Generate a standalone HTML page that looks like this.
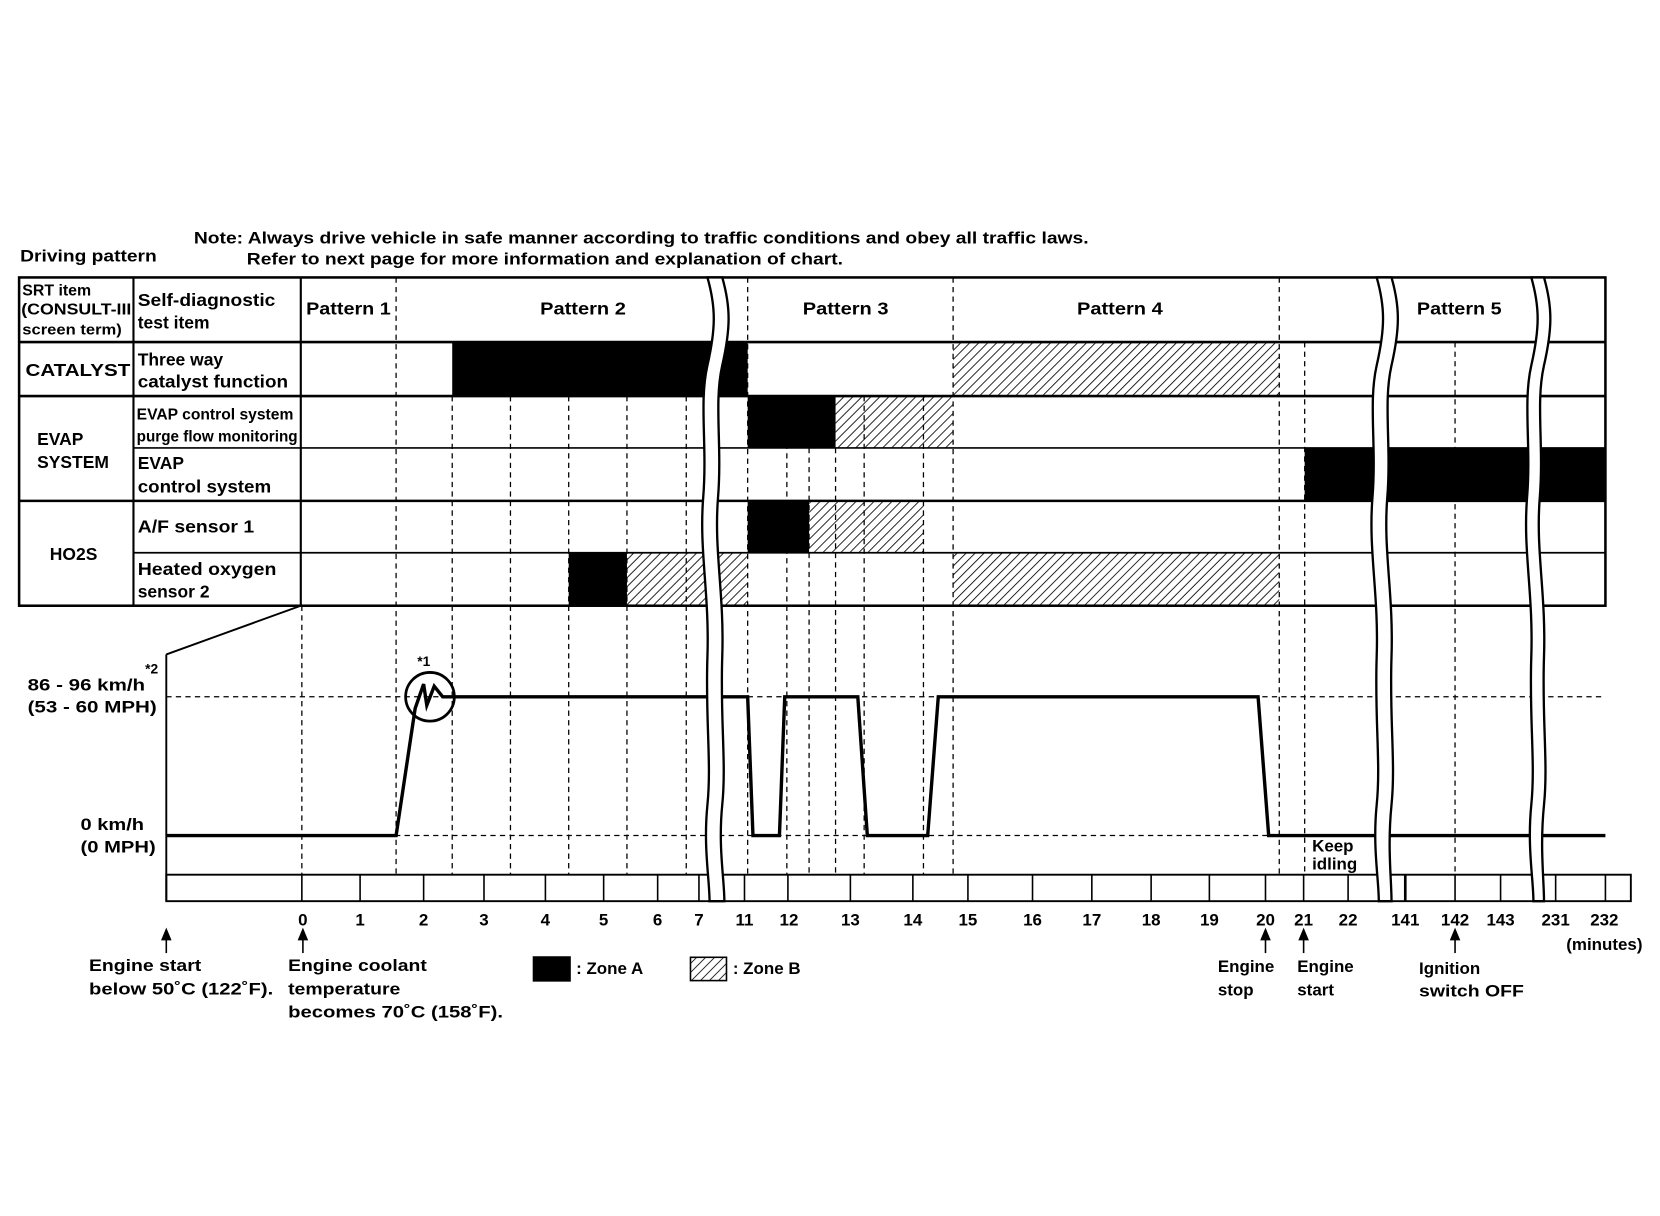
<!DOCTYPE html>
<html><head><meta charset="utf-8"><style>
html,body{margin:0;padding:0;background:#fff}
svg{display:block}
text{font-family:"Liberation Sans",sans-serif;fill:#000;font-weight:bold}
</style></head><body>
<svg width="1660" height="1216" viewBox="0 0 1567.5 1148.3" xmlns="http://www.w3.org/2000/svg">
<defs>
<pattern id="h" width="6" height="6" patternUnits="userSpaceOnUse" patternTransform="rotate(45)">
<line x1="0" y1="0" x2="0" y2="6" stroke="#000" stroke-width="1.6"/>
</pattern>
</defs>
<rect width="1567.5" height="1148.3" fill="#fff"/>
<!-- titles -->
<text x="183" y="230" font-size="15.5" textLength="845" lengthAdjust="spacingAndGlyphs">Note: Always drive vehicle in safe manner according to traffic conditions and obey all traffic laws.</text>
<text x="233" y="250" font-size="15.5" textLength="563" lengthAdjust="spacingAndGlyphs">Refer to next page for more information and explanation of chart.</text>
<text x="19" y="247" font-size="15.5" textLength="129" lengthAdjust="spacingAndGlyphs">Driving pattern</text>

<!-- zones -->
<g>
<rect x="427" y="323" width="279" height="51" fill="#000"/>
<rect x="706" y="374" width="83" height="49" fill="#000"/>
<rect x="789" y="374" width="111" height="49" fill="url(#h)"/>
<rect x="900" y="323" width="308" height="51" fill="url(#h)"/>
<rect x="1232" y="423" width="284" height="50" fill="#000"/>
<rect x="706" y="473" width="58" height="49" fill="#000"/>
<rect x="764" y="473" width="108" height="49" fill="url(#h)"/>
<rect x="537" y="522" width="55" height="50" fill="#000"/>
<rect x="592" y="522" width="114" height="50" fill="url(#h)"/>
<rect x="900" y="522" width="308" height="50" fill="url(#h)"/>
</g>

<!-- dashed verticals -->
<g stroke="#000" stroke-width="1.2" stroke-dasharray="5,4">
<line x1="374" y1="262" x2="374" y2="826"/>
<line x1="427" y1="374" x2="427" y2="826"/>
<line x1="482" y1="374" x2="482" y2="826"/>
<line x1="537" y1="374" x2="537" y2="826"/>
<line x1="592" y1="374" x2="592" y2="826"/>
<line x1="648" y1="374" x2="648" y2="826"/>
<line x1="706" y1="262" x2="706" y2="826"/>
<line x1="743" y1="374" x2="743" y2="826"/>
<line x1="764" y1="423" x2="764" y2="826"/>
<line x1="789" y1="423" x2="789" y2="826"/>
<line x1="816" y1="374" x2="816" y2="826"/>
<line x1="872" y1="374" x2="872" y2="826"/>
<line x1="900" y1="262" x2="900" y2="826"/>
<line x1="1208" y1="262" x2="1208" y2="826"/>
<line x1="1232" y1="323" x2="1232" y2="826"/>
<line x1="1374" y1="323" x2="1374" y2="826"/>
<line x1="285" y1="572" x2="285" y2="826"/>
</g>
<g stroke="#000" stroke-width="1.2" stroke-dasharray="5,4">
<line x1="157" y1="658" x2="1516" y2="658"/>
<line x1="157" y1="789" x2="1516" y2="789"/>
</g>

<!-- table grid -->
<g stroke="#000" fill="none">
<rect x="18" y="262" width="1498" height="310" stroke-width="2.4"/>
<line x1="18" y1="323" x2="1516" y2="323" stroke-width="2.4"/>
<line x1="18" y1="374" x2="1516" y2="374" stroke-width="2.4"/>
<line x1="126" y1="423" x2="1516" y2="423" stroke-width="1.6"/>
<line x1="18" y1="473" x2="1516" y2="473" stroke-width="2.4"/>
<line x1="126" y1="522" x2="1516" y2="522" stroke-width="1.6"/>
<line x1="126" y1="262" x2="126" y2="572" stroke-width="2"/>
<line x1="284" y1="262" x2="284" y2="572" stroke-width="2"/>
</g>
<!-- table texts -->
<g font-size="14">
<text x="21" y="279" font-weight="normal" font-size="15">SRT item</text>
<text x="20" y="297" font-weight="normal" font-size="15" textLength="104" lengthAdjust="spacingAndGlyphs">(CONSULT-III</text>
<text x="21" y="316" font-weight="normal" font-size="14" textLength="94" lengthAdjust="spacingAndGlyphs">screen term)</text>
<text x="130" y="289" font-size="16.5" textLength="130" lengthAdjust="spacingAndGlyphs">Self-diagnostic</text>
<text x="130" y="310" font-size="16.5">test item</text>
<text x="24" y="355" font-size="16.5" textLength="99" lengthAdjust="spacingAndGlyphs">CATALYST</text>
<text x="130" y="345" font-size="16.5">Three way</text>
<text x="130" y="366" font-size="16.5" textLength="142" lengthAdjust="spacingAndGlyphs">catalyst function</text>
<text x="35" y="420" font-size="16.5">EVAP</text>
<text x="35" y="442" font-size="16.5">SYSTEM</text>
<text x="129" y="396" font-size="14.5" font-weight="normal" textLength="148" lengthAdjust="spacingAndGlyphs">EVAP control system</text>
<text x="129" y="417" font-size="14.5" font-weight="normal" textLength="152" lengthAdjust="spacingAndGlyphs">purge flow monitoring</text>
<text x="130" y="443" font-size="16.5">EVAP</text>
<text x="130" y="465" font-size="16.5" textLength="126" lengthAdjust="spacingAndGlyphs">control system</text>
<text x="130" y="503" font-size="16.5" textLength="110" lengthAdjust="spacingAndGlyphs">A/F sensor 1</text>
<text x="47" y="529" font-size="16.5">HO2S</text>
<text x="130" y="543" font-size="16.5" textLength="131" lengthAdjust="spacingAndGlyphs">Heated oxygen</text>
<text x="130" y="564" font-size="16.5">sensor 2</text>
<text x="289" y="297" font-size="16.5" textLength="80" lengthAdjust="spacingAndGlyphs">Pattern 1</text>
<text x="510" y="297" font-size="16.5" textLength="81" lengthAdjust="spacingAndGlyphs">Pattern 2</text>
<text x="758" y="297" font-size="16.5" textLength="81" lengthAdjust="spacingAndGlyphs">Pattern 3</text>
<text x="1017" y="297" font-size="16.5" textLength="81" lengthAdjust="spacingAndGlyphs">Pattern 4</text>
<text x="1338" y="297" font-size="16.5" textLength="80" lengthAdjust="spacingAndGlyphs">Pattern 5</text>
</g>

<!-- speed chart frame -->
<g stroke="#000" fill="none" stroke-width="1.8">
<line x1="157" y1="618" x2="284" y2="572"/>
<line x1="157" y1="618" x2="157" y2="851"/>
<rect x="157" y="826" width="1383" height="25"/>
</g>
<g stroke="#000" stroke-width="1.5">
<line x1="285" y1="826" x2="285" y2="851"/>
<line x1="340" y1="826" x2="340" y2="851"/>
<line x1="400" y1="826" x2="400" y2="851"/>
<line x1="457" y1="826" x2="457" y2="851"/>
<line x1="515" y1="826" x2="515" y2="851"/>
<line x1="570" y1="826" x2="570" y2="851"/>
<line x1="621" y1="826" x2="621" y2="851"/>
<line x1="660" y1="826" x2="660" y2="851"/>
<line x1="703" y1="826" x2="703" y2="851"/>
<line x1="744" y1="826" x2="744" y2="851"/>
<line x1="803" y1="826" x2="803" y2="851"/>
<line x1="862" y1="826" x2="862" y2="851"/>
<line x1="914" y1="826" x2="914" y2="851"/>
<line x1="975" y1="826" x2="975" y2="851"/>
<line x1="1031" y1="826" x2="1031" y2="851"/>
<line x1="1087" y1="826" x2="1087" y2="851"/>
<line x1="1142" y1="826" x2="1142" y2="851"/>
<line x1="1195" y1="826" x2="1195" y2="851"/>
<line x1="1231" y1="826" x2="1231" y2="851"/>
<line x1="1273" y1="826" x2="1273" y2="851"/>
<line x1="1327" y1="826" x2="1327" y2="851" stroke-width="2.5"/>
<line x1="1374" y1="826" x2="1374" y2="851"/>
<line x1="1417" y1="826" x2="1417" y2="851"/>
<line x1="1469" y1="826" x2="1469" y2="851"/>
<line x1="1516" y1="826" x2="1516" y2="851"/>
</g>

<!-- speed line -->
<polyline fill="none" stroke="#000" stroke-width="3.2" stroke-linejoin="miter"
points="157,789 374,789 392,669 400,646 403,666 410,648 418,658 706,658 711,789 736,789 741,658 810,658 819,789 876,789 886,658 1188,658 1198,789 1516,789"/>
<circle cx="406" cy="658" r="23" fill="none" stroke="#000" stroke-width="2.6"/>
<text x="394" y="629" font-size="13" font-weight="normal">*1</text>

<!-- break bands -->
<g>
<path d="M668,262 C676,290 676,310 668,345 C660,380 668,420 664,470 C660,520 670,560 668,620 C666,680 672,720 668,760 C664,800 670,830 670,851 L684,851 C684,830 678,800 682,760 C686,720 680,680 682,620 C684,560 674,520 678,470 C682,420 674,380 682,345 C690,310 690,290 682,262 Z" fill="#fff" stroke="#000" stroke-width="2.2"/>
<path d="M1300,262 C1308,290 1308,310 1300,345 C1292,380 1300,420 1296,470 C1292,520 1302,560 1300,620 C1298,680 1304,720 1300,760 C1296,800 1302,830 1302,851 L1314,851 C1314,830 1310,800 1314,760 C1318,720 1312,680 1314,620 C1316,560 1306,520 1310,470 C1314,420 1306,380 1314,345 C1322,310 1322,290 1314,262 Z" fill="#fff" stroke="#000" stroke-width="2.2"/>
<path d="M1446,262 C1454,290 1454,310 1446,345 C1438,380 1446,420 1442,470 C1438,520 1448,560 1446,620 C1444,680 1450,720 1446,760 C1442,800 1448,830 1448,851 L1458,851 C1458,830 1454,800 1458,760 C1462,720 1456,680 1458,620 C1460,560 1450,520 1454,470 C1458,420 1450,380 1458,345 C1466,310 1466,290 1458,262 Z" fill="#fff" stroke="#000" stroke-width="2.2"/>
</g>

<!-- y labels -->
<g font-size="16">
<text x="26" y="652" textLength="111" lengthAdjust="spacingAndGlyphs">86 - 96 km/h</text>
<text x="137" y="636" font-size="13">*2</text>
<text x="26" y="673" textLength="122" lengthAdjust="spacingAndGlyphs">(53 - 60 MPH)</text>
<text x="76" y="784" textLength="60" lengthAdjust="spacingAndGlyphs">0 km/h</text>
<text x="76" y="805" textLength="71" lengthAdjust="spacingAndGlyphs">(0 MPH)</text>
</g>
<text x="1239" y="804" font-size="16">Keep</text>
<text x="1239" y="821" font-size="16">idling</text>

<!-- tick labels -->
<g font-size="16" text-anchor="middle">
<text x="286" y="874">0</text><text x="340" y="874">1</text><text x="400" y="874">2</text>
<text x="457" y="874">3</text><text x="515" y="874">4</text><text x="570" y="874">5</text>
<text x="621" y="874">6</text><text x="660" y="874">7</text><text x="703" y="874">11</text>
<text x="745" y="874">12</text><text x="803" y="874">13</text><text x="862" y="874">14</text>
<text x="914" y="874">15</text><text x="975" y="874">16</text><text x="1031" y="874">17</text>
<text x="1087" y="874">18</text><text x="1142" y="874">19</text><text x="1195" y="874">20</text>
<text x="1231" y="874">21</text><text x="1273" y="874">22</text><text x="1327" y="874">141</text>
<text x="1374" y="874">142</text><text x="1417" y="874">143</text><text x="1469" y="874">231</text>
<text x="1515" y="874">232</text>
<text x="1515" y="897">(minutes)</text>
</g>

<!-- arrows -->
<g stroke="#000" stroke-width="1.5">
<line x1="157" y1="885" x2="157" y2="900"/>
<line x1="286" y1="885" x2="286" y2="900"/>
<line x1="1195" y1="885" x2="1195" y2="900"/>
<line x1="1231" y1="885" x2="1231" y2="900"/>
<line x1="1374" y1="885" x2="1374" y2="900"/>
</g>
<g fill="#000">
<polygon points="152,888 157,876 162,888"/>
<polygon points="281,888 286,876 291,888"/>
<polygon points="1190,888 1195,876 1200,888"/>
<polygon points="1226,888 1231,876 1236,888"/>
<polygon points="1369,888 1374,876 1379,888"/>
</g>
<g font-size="16">
<text x="84" y="917" textLength="106" lengthAdjust="spacingAndGlyphs">Engine start</text>
<text x="84" y="939" textLength="174" lengthAdjust="spacingAndGlyphs">below 50˚C (122˚F).</text>
<text x="272" y="917" textLength="131" lengthAdjust="spacingAndGlyphs">Engine coolant</text>
<text x="272" y="939" textLength="106" lengthAdjust="spacingAndGlyphs">temperature</text>
<text x="272" y="961" textLength="203" lengthAdjust="spacingAndGlyphs">becomes 70˚C (158˚F).</text>
<text x="1150" y="918">Engine</text>
<text x="1150" y="940">stop</text>
<text x="1225" y="918">Engine</text>
<text x="1225" y="940">start</text>
<text x="1340" y="920">Ignition</text>
<text x="1340" y="941" textLength="99" lengthAdjust="spacingAndGlyphs">switch OFF</text>
</g>
<rect x="503" y="903" width="36" height="24" fill="#000"/>
<text x="544" y="920" font-size="16">: Zone A</text>
<rect x="652" y="904" width="34" height="22" fill="url(#h)" stroke="#000" stroke-width="1.5"/>
<text x="692" y="920" font-size="16">: Zone B</text>
</svg>
</body></html>
